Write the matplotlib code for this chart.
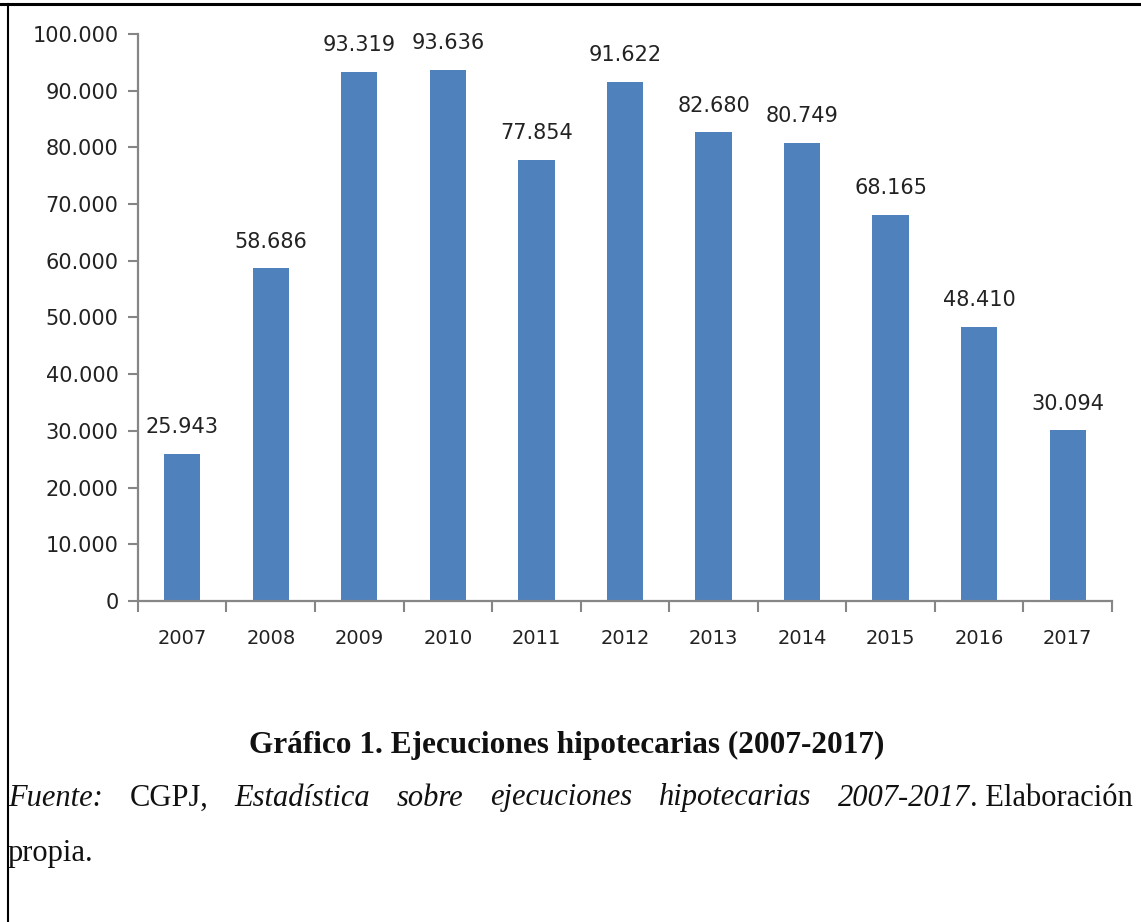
import matplotlib
matplotlib.use("Agg")
import matplotlib.pyplot as plt
from matplotlib.lines import Line2D
from matplotlib.ticker import FuncFormatter

years = ["2007", "2008", "2009", "2010", "2011", "2012",
         "2013", "2014", "2015", "2016", "2017"]
ejecuciones = [25943, 58686, 93319, 93636, 77854, 91622,
               82680, 80749, 68165, 48410, 30094]
y_ticks = list(range(0, 100001, 10000))

BAR_COLOR = "#4F81BD"
AXIS_COLOR = "#868686"


def miles(v, pos=None):
    # thousands separator as a dot, e.g. 93.319
    return f"{int(v):,}".replace(",", ".")


fig = plt.figure(figsize=(11.41, 9.22), dpi=100)
ax = fig.add_axes([0.1209, 0.3482, 0.8537, 0.6149])

x = list(range(len(years)))
ax.bar(x, ejecuciones, width=0.41, color=BAR_COLOR)

for xi, v in zip(x, ejecuciones):
    ax.annotate(miles(v), (xi, v), xytext=(0, 12), textcoords="offset points",
                ha="center", va="bottom", fontsize=15, color="#222222",
                family="DejaVu Sans")

ax.set_xlim(-0.5, len(years) - 0.5)
ax.set_ylim(0, 100000)
ax.set_yticks(y_ticks)
ax.yaxis.set_major_formatter(FuncFormatter(miles))

# labels under the bars, tick marks between categories
ax.set_xticks(x)
ax.set_xticklabels(years)
ax.set_xticks([i - 0.5 for i in range(len(years) + 1)], minor=True)
ax.tick_params(axis="x", which="major", length=0, pad=20, labelsize=14)
ax.tick_params(axis="x", which="minor", length=8, width=1.5, color=AXIS_COLOR)
ax.tick_params(axis="y", length=7, width=1.5, color=AXIS_COLOR, pad=7, labelsize=15)
for lab in ax.get_xticklabels() + ax.get_yticklabels():
    lab.set_color("#222222")

for side in ("top", "right"):
    ax.spines[side].set_visible(False)
for side in ("left", "bottom"):
    ax.spines[side].set_color(AXIS_COLOR)
    ax.spines[side].set_linewidth(1.6)

# border of the page fragment
fig.add_artist(Line2D([0, 1], [0.9962, 0.9962], color="black", lw=2.2,
                      transform=fig.transFigure))
fig.add_artist(Line2D([0.0066, 0.0066], [0, 0.9962], color="black", lw=1.5,
                      transform=fig.transFigure))

fig.text(0.4970, 1 - 745 / 922, "Gráfico 1. Ejecuciones hipotecarias (2007-2017)",
         ha="center", va="center", fontsize=22.5, fontweight="bold",
         family="Liberation Serif", color="#111111")

# justified source line
words = [("Fuente:", "italic"), ("CGPJ,", "normal"), ("Estadística", "italic"),
         ("sobre", "italic"), ("ejecuciones", "italic"), ("hipotecarias", "italic"),
         ("2007-2017", "italic"), (". Elaboración", "normal")]
renderer = fig.canvas.get_renderer()
line_left, line_right = 8, 1133
y_line = 1 - 798 / 922
texts = []
for w, style in words:
    t = fig.text(0, y_line, w, ha="left", va="center", fontsize=22,
                 style=style, family="Liberation Serif", color="#111111")
    texts.append(t)
widths = [t.get_window_extent(renderer).width for t in texts]
# the period joins the italic year without a gap
gaps = len(words) - 2
space = (line_right - line_left - sum(widths)) / gaps
pos = line_left
for i, (t, wd) in enumerate(zip(texts, widths)):
    t.set_x(pos / 1141)
    pos += wd
    if i < len(texts) - 1 and i != len(texts) - 2:
        pos += space

fig.text(8 / 1141, 1 - 853 / 922, "propia.", ha="left", va="center",
         fontsize=22, family="Liberation Serif", color="#111111")

fig.savefig("out.png", dpi=100)
